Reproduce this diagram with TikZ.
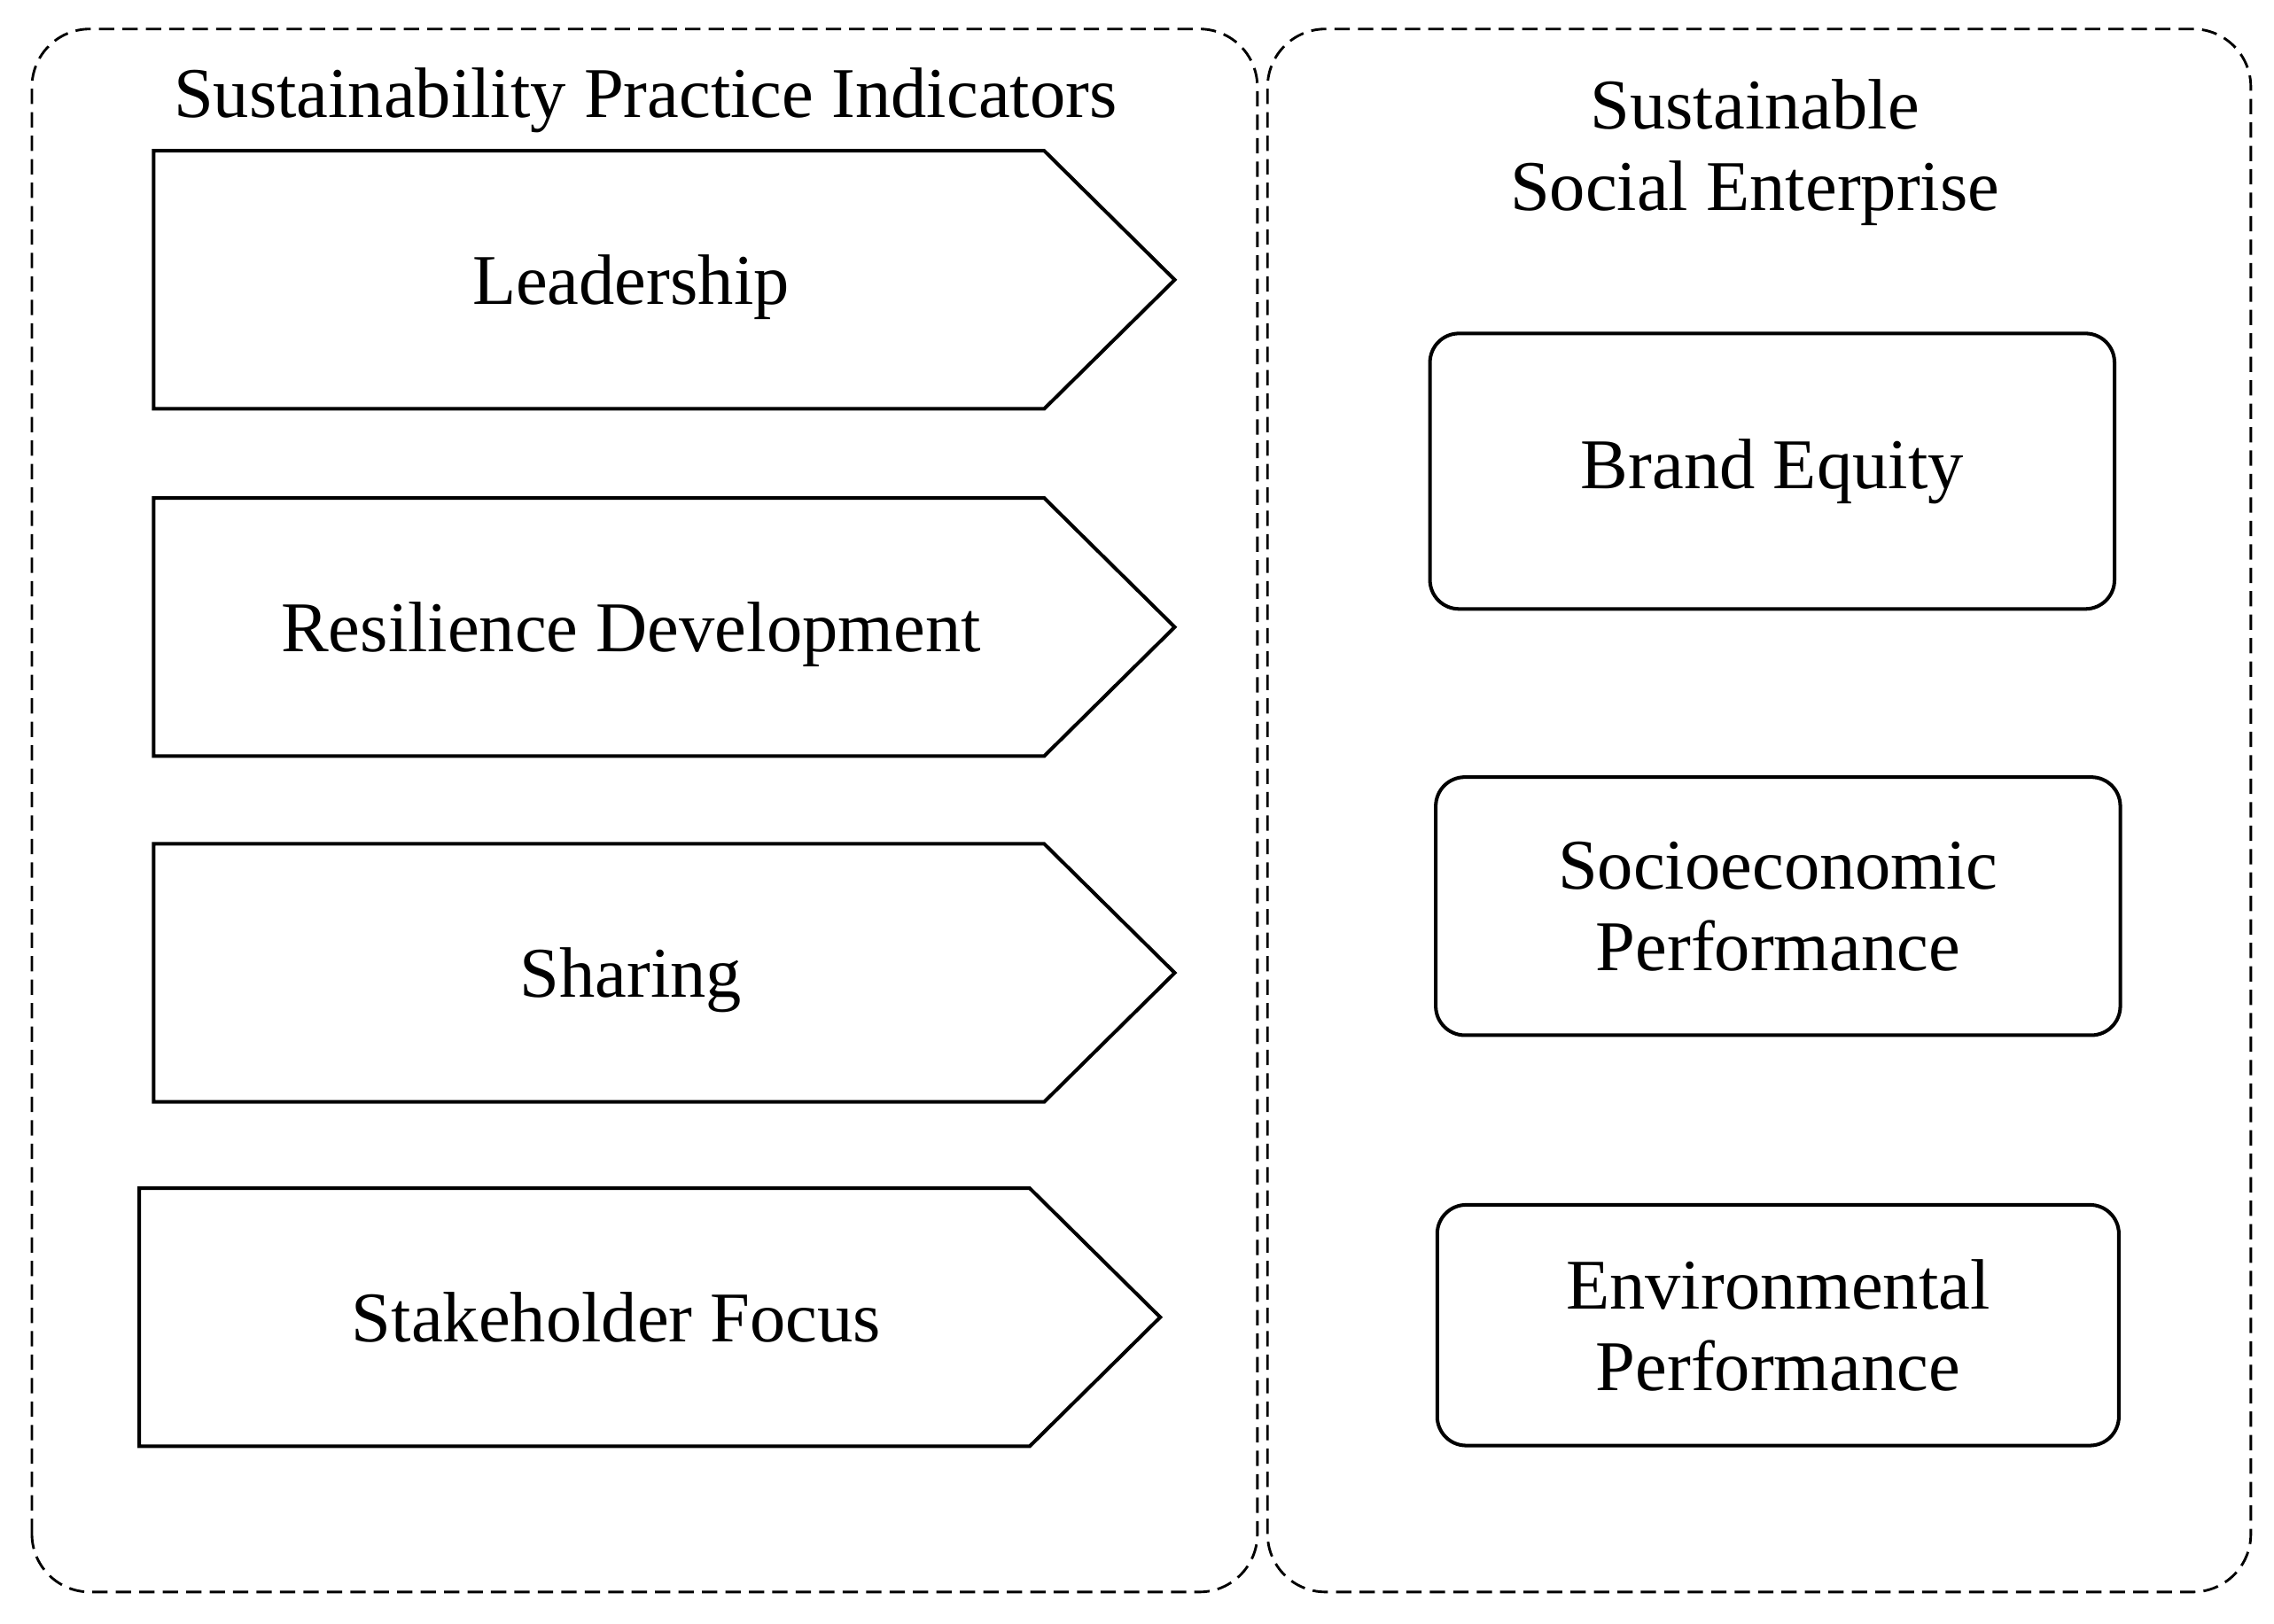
\documentclass[tikz,border=0pt]{standalone}
\usepackage{fontspec}
\setmainfont{Liberation Serif}
\usetikzlibrary{positioning}

\begin{document}
\begin{tikzpicture}[
    group_box/.style={draw,line width=0.5pt,dash pattern=on 3pt off 1.6pt,rounded corners=0.4cm},
    ind_box/.style={draw,line width=0.7pt,line join=miter},
    ind_text/.style={font=\fontsize{14}{16}\selectfont,anchor=base,inner sep=0pt},
    out_box/.style={draw,line width=0.7pt,rounded corners=0.2cm,align=center,
        font=\fontsize{14}{16}\selectfont,inner sep=2pt}
]
\useasboundingbox (0,0) rectangle (15.68,11.20);

% Containers
\draw[group_box] (0.22,0.22) rectangle (8.67,11.00);
\draw[group_box] (8.74,0.22) rectangle (15.52,11.00);

% Titles
\node[ind_text] (ind_title) at (4.45,10.39) {Sustainability Practice Indicators};
\node[align=center,font=\fontsize{14}{16}\selectfont] (sse_title) at (12.10,10.15)
    {Sustainable\\Social Enterprise};

% Indicator arrows: name / left x / middle y / text
\foreach \nm/\xa/\ym/\txt in {lead/1.06/9.27/Leadership,
                              resil/1.06/6.875/Resilience Development,
                              share/1.06/4.49/Sharing,
                              stake/0.96/2.115/Stakeholder Focus}
{
    \draw[ind_box] (\xa,\ym-0.89) -- ++(6.14,0) -- ++(0.90,0.89)
        -- ++(-0.90,0.89) -- ++(-6.14,0) -- cycle;
    \node[ind_text] (\nm) at (\xa+3.29,\ym-0.17) {\txt};
}

% Outcome boxes
\node[out_box,minimum width=4.72cm,minimum height=1.90cm] (brand) at (12.22,7.95) {Brand Equity};
\node[out_box,minimum width=4.72cm,minimum height=1.78cm] (socio) at (12.26,4.95) {Socioeconomic\\Performance};
\node[out_box,minimum width=4.70cm,minimum height=1.66cm] (envir) at (12.26,2.06) {Environmental\\Performance};

\end{tikzpicture}
\end{document}
